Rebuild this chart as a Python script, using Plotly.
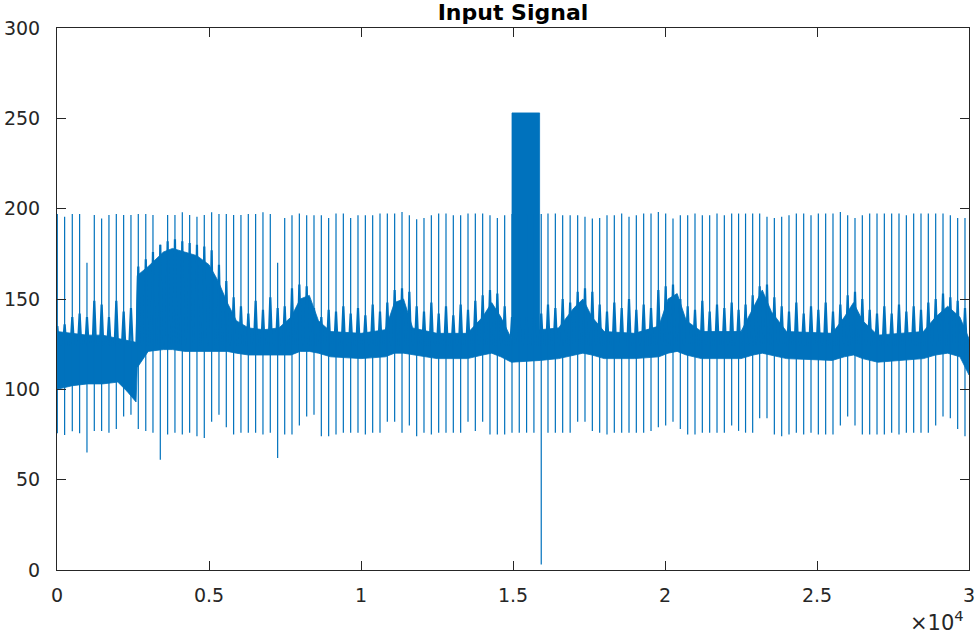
import plotly.graph_objects as go

# ---------------- data ----------------
# sample index of each heartbeat (R spike)
beat_x = [
    10, 251, 503, 744, 986, 1227, 1468, 1709, 1951, 2192,
    2433, 2674, 2920, 3157, 3398, 3639, 3880, 4122, 4363, 4604,
    4845, 5087, 5328, 5569, 5810, 6051, 6293, 6534, 6775, 7016,
    7258, 7490, 7730, 7972, 8213, 8454, 8695, 8936, 9178, 9419,
    9660, 9901, 10143, 10384, 10625, 10866, 11107, 11349, 11590, 11831,
    12072, 12314, 12555, 12796, 13037, 13278, 13520, 13761, 14002, 14243,
    14485, 14726, 14967, 15206, 15447, 15688, 15929, 16151, 16393, 16634,
    16880, 17127, 17368, 17610, 17851, 18092, 18333, 18575, 18816, 19057,
    19298, 19540, 19781, 20022, 20263, 20504, 20746, 20987, 21228, 21469,
    21711, 21952, 22193, 22420, 22650, 22884, 23114, 23355, 23597, 23838,
    24079, 24320, 24562, 24803, 25044, 25285, 25526, 25768, 26009, 26250,
    26491, 26733, 26974, 27215, 27456, 27697, 27939, 28180, 28421, 28662,
    28904, 29145, 29386, 29627, 29868,
]
# top of each R spike
beat_peak = [
    197, 195.5, 197, 197, 170, 196.5, 194.5, 196.5, 197, 196.5,
    196.5, 197, 197, 196.5, 180, 196.5, 196.5, 198, 196.5, 195.5,
    196.5, 198, 197, 197, 196.5, 196.5, 197, 197, 198, 197,
    170, 194.9, 196.4, 197.3, 196.4, 196.4, 196.4, 194.9, 197.3, 197.3,
    194.9, 196.4, 196.4, 196.4, 197.3, 197.3, 197.3, 198.2, 196.4, 194.2,
    194.9, 196.4, 197.3, 197.3, 196.4, 196.4, 197.3, 197.3, 197.3, 196.4,
    194.9, 196.4, 197, 197, 197, 197, 197, 197.3, 197.3, 196.4,
    196.4, 196.4, 195.5, 194.6, 194.9, 196.4, 196.4, 197.3, 195.5, 196.4,
    197.3, 197.3, 198.2, 197.3, 194.6, 196.4, 196.4, 197.3, 196.4, 196.4,
    197.3, 196.4, 197.3, 197.3, 197.3, 197.3, 197.3, 195.5, 194.9, 195.5,
    196.4, 197.3, 197.3, 196.4, 197.3, 197.3, 197.3, 198.2, 196.4, 194.9,
    196.4, 197.3, 197.3, 197.3, 197.3, 197.3, 196.4, 197.3, 197.3, 197.3,
    197.3, 197.3, 196.4, 194.9, 194.9,
]
# bottom of the downward (S) spike of each beat
beat_trough = [
    75.7, 74.7, 76.8, 75.7, 65, 77, 77, 76, 78, 85,
    86, 78, 77, 76, 61, 75, 76, 75, 76, 74,
    73, 82, 86, 79, 75, 76, 76, 76, 75, 76,
    62, 75, 75, 80, 85, 86, 74, 74, 75, 76,
    76, 76, 75, 76, 76, 82, 82, 76, 80, 74,
    76, 75, 76, 76, 76, 76, 82, 77, 82, 75,
    75, 75, 76, 76, 76, 76, 3, 76, 76, 76,
    76, 82, 82, 77, 76, 75, 76, 76, 76, 76,
    76, 77, 79, 80, 82, 78, 75, 75, 76, 76,
    76, 76, 80, 77, 76, 76, 84, 84, 75, 74,
    75, 76, 75, 76, 75, 75, 75, 80, 85, 80,
    75, 75, 75, 75, 76, 75, 76, 76, 76, 76,
    80, 85, 84, 78, 74,
]
# height of the broad wave at the base of each beat
beat_tooth = [
    135, 136, 140, 142, 140, 149, 147, 140, 149, 143,
    145, 168, 172, 176, 180, 182, 183, 182, 181, 180,
    179, 177, 169, 160, 151, 146, 142, 149, 144, 151,
    145, 146, 156, 158, 157, 145, 140, 144, 143, 146,
    142, 145, 141, 147, 143, 148, 155, 156, 154, 146,
    143, 148, 142, 146, 141, 147, 144, 149, 152, 155,
    153, 146, 140, 140, 140, 140, 142, 147, 145, 150,
    148, 154, 156, 154, 147, 143, 148, 145, 150, 144,
    147, 145, 155, 157, 158, 150, 146, 144, 149, 143,
    147, 145, 148, 144, 147, 152, 157, 158, 151, 146,
    143, 148, 142, 146, 144, 148, 143, 147, 152, 154,
    150, 144, 142, 146, 142, 147, 143, 146, 144, 148,
    150, 153, 151, 149, 145,
]
# envelope of the dense noisy band between beats
band_x = [0, 500, 1000, 1500, 2000, 2300, 2600, 2640, 3000, 3500,
          3800, 4200, 4600, 5000, 5300, 5600, 5900, 6300, 6800, 7300,
          7700, 8000, 8300, 8600, 9000, 10000, 10800, 11100, 11400, 11700,
          12500, 13500, 14000, 14300, 14600, 14950, 15900, 16500, 17000, 17300,
          17600, 18000, 19000, 19800, 20100, 20400, 20700, 21200, 22500, 22900,
          23200, 23500, 24000, 25500, 25900, 26200, 26500, 27000, 28500, 28900,
          29300, 29700, 30000]
band_hi = [132, 131, 130, 130, 128, 127, 126, 163, 168, 176,
           178, 176, 174, 169, 160, 148, 138, 134, 133, 134,
           140, 150, 152, 138, 132, 131, 133, 148, 150, 134,
           131, 131, 140, 148, 140, 128, 133, 134, 145, 150,
           140, 132, 131, 135, 150, 153, 138, 132, 132, 145,
           155, 143, 132, 131, 140, 148, 138, 130, 132, 140,
           146, 140, 128]
band_lo = [100, 102, 103, 103, 104, 99, 93, 112, 121, 122,
           122, 121, 121, 121, 121, 121, 120, 119, 119, 119,
           119, 121, 121, 120, 118, 117, 118, 120, 120, 119,
           117, 117, 119, 120, 118, 115, 116, 117, 119, 120,
           119, 117, 117, 118, 120, 121, 119, 117, 117, 119,
           120, 119, 117, 116, 118, 119, 117, 115, 117, 119,
           120, 118, 108]
# saturated burst
block_x = [14967, 15875]
block_y = [124, 253]

x_tickvals = [0, 5000, 10000, 15000, 20000, 25000, 30000]
x_ticktext = ["0", "0.5", "1", "1.5", "2", "2.5", "3"]
y_tickvals = [0, 50, 100, 150, 200, 250, 300]

# ---------------- styling ----------------
BLUE = "#0072BD"
AX = "#262626"
FONT = "DejaVu Sans"
TOOTH_W = 55
TOOTH_BASE = 124

fig = go.Figure()

fig.add_trace(go.Scatter(
    x=band_x + band_x[::-1], y=band_hi + band_lo[::-1],
    mode="lines", fill="toself", fillcolor=BLUE,
    line=dict(color=BLUE, width=0.8), hoverinfo="skip", showlegend=False))

fig.add_trace(go.Scatter(
    x=[block_x[0], block_x[0], block_x[1], block_x[1]],
    y=[block_y[0], block_y[1], block_y[1], block_y[0]],
    mode="lines", fill="toself", fillcolor=BLUE,
    line=dict(color=BLUE, width=0.8), hoverinfo="skip", showlegend=False))

# broad base of each beat, drawn as a thin inverted V
tx, ty = [], []
for x, t in zip(beat_x, beat_tooth):
    tx += [x - TOOTH_W, x, x + TOOTH_W, None]
    ty += [TOOTH_BASE, t, TOOTH_BASE, None]
fig.add_trace(go.Scatter(
    x=tx, y=ty, mode="lines", line=dict(color=BLUE, width=2.2),
    hoverinfo="skip", showlegend=False))

sx, sy = [], []
for x, p, tr in zip(beat_x, beat_peak, beat_trough):
    sx += [x, x, None]
    sy += [tr, p, None]
fig.add_trace(go.Scatter(
    x=sx, y=sy, mode="lines", line=dict(color=BLUE, width=1.2),
    hoverinfo="skip", showlegend=False))

axis_common = dict(
    ticks="inside", ticklen=9, tickwidth=1, tickcolor=AX,
    showline=True, linecolor=AX, linewidth=1, mirror="ticks",
    showgrid=False, zeroline=False, automargin=False,
    ticklabeloverflow="allow",
    tickfont=dict(family=FONT, size=19, color=AX),
)

fig.update_layout(
    width=975, height=636,
    margin=dict(l=57, r=6, t=28, b=66),
    paper_bgcolor="white", plot_bgcolor="white",
    title=dict(text="<b>Input Signal</b>", x=0.5, xref="paper",
               y=1 - 12 / 636, yref="container", yanchor="middle",
               automargin=False,
               font=dict(family=FONT, size=22, color="black")),
    xaxis=dict(range=[0, 30000], tickvals=x_tickvals, ticktext=x_ticktext,
               ticklabelstandoff=8, **axis_common),
    yaxis=dict(range=[0, 300], tickvals=y_tickvals,
               ticklabelstandoff=12, **axis_common),
    annotations=[dict(text="×10<sup>4</sup>", x=1, xref="paper", xanchor="right",
                      xshift=-3, y=-0.094, yref="paper", yanchor="middle",
                      showarrow=False, font=dict(family=FONT, size=21, color=AX))],
)

fig.write_html(
    "out.html",
    config={"responsive": False, "displayModeBar": False},
    post_script="document.body.style.margin='0px';document.body.style.overflow='hidden';",
)
